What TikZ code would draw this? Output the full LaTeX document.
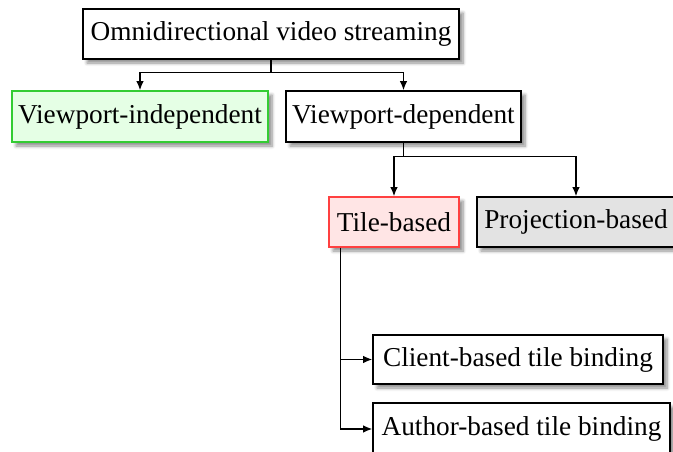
\documentclass[tikz,border=0pt]{standalone}
\usepackage{fontspec}
\setmainfont{Liberation Serif}
\usetikzlibrary{arrows.meta,shadows.blur}
\def\u{0.372pt}
\begin{document}
\begin{tikzpicture}[x=0.372pt,y=-0.372pt,
  box/.style={draw=black, fill=white, line width=0.5pt, inner sep=0pt,
    align=center, font=\fontsize{10.15pt}{12pt}\selectfont,
    blur shadow={shadow xshift=1.5pt, shadow yshift=-1.5pt, shadow blur steps=6, shadow blur radius=1.2pt, shadow opacity=45}},
  greenbox/.style={box, draw=green!75!black!80, fill=green!10},
  redbox/.style={box, draw=red!75, fill=red!10},
  graybox/.style={box, fill=gray!22},
  arr/.style={-{Latex[length=3.4pt,width=2.8pt]}, line width=0.55pt}]
\useasboundingbox (0,0) rectangle (673,452);
\clip (0,0) rectangle (673,452);

% nodes of the tree
\node[box, minimum width=376*\u, minimum height=50*\u] (omni) at (271,34) {Omnidirectional video streaming};
\node[greenbox, minimum width=256*\u, minimum height=51*\u] (vind) at (140,116.5) {Viewport-independent};
\node[box, minimum width=235*\u, minimum height=51*\u] (vdep) at (403.5,116.5) {Viewport-dependent};
\node[redbox, minimum width=130*\u, minimum height=50*\u] (tile) at (394,222) {Tile-based};
\node[graybox, minimum width=198*\u, minimum height=50*\u] (proj) at (576,222) {Projection-based};
\node[box, minimum width=290*\u, minimum height=49*\u] (client) at (518,359.5) {Client-based tile binding};
\node[box, minimum width=297*\u, minimum height=52*\u] (author) at (521.5,429) {Author-based tile binding};

% connectors
\draw[arr] (omni.south) -- ++(0,13) -| (vind.north);
\draw[arr] (omni.south) -- ++(0,13) -| (vdep.north);
\draw[arr] (vdep.south) -- ++(0,14) -| (tile.north);
\draw[arr] (vdep.south) -- ++(0,14) -| (proj.north);
\draw[arr] ([xshift=12*\u]tile.south west) |- (client.west);
\draw[arr] ([xshift=12*\u]tile.south west) |- (author.west);
\end{tikzpicture}
\end{document}
